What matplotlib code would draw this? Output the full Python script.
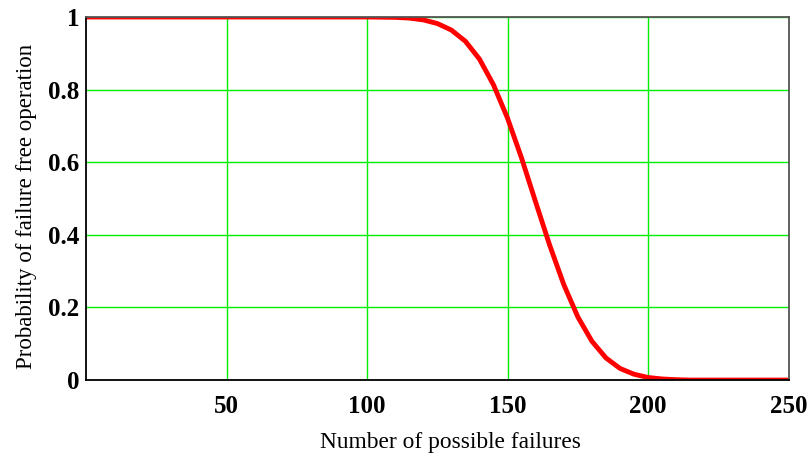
import matplotlib.pyplot as plt

# number of possible failures and probability of failure free operation
failures = [0, 50, 100, 110, 115, 120, 125, 130, 135, 140, 145, 150, 155, 160,
            165, 170, 175, 180, 185, 190, 195, 200, 205, 210, 215, 250]
prob = [1.0, 1.0, 1.0, 0.999, 0.997, 0.992, 0.982, 0.964, 0.933, 0.884, 0.813,
        0.721, 0.611, 0.490, 0.371, 0.263, 0.174, 0.107, 0.061, 0.032, 0.016,
        0.007, 0.003, 0.001, 0.0, 0.0]

x_ticks = [50, 100, 150, 200, 250]
y_ticks = [0, 0.2, 0.4, 0.6, 0.8, 1.0]
y_labels = ['0', '0.2', '0.4', '0.6', '0.8', '1']

plt.rcParams['font.family'] = ['Liberation Serif', 'DejaVu Serif']

fig = plt.figure(figsize=(8.07, 4.59), dpi=100)
ax = fig.add_axes([0.1066, 0.172, 0.8706, 0.791])

ax.plot(failures, prob, color='#ff0000', linewidth=3.5, solid_capstyle='butt', zorder=3)

ax.set_xlim(0, 250)
ax.set_ylim(0, 1)
ax.set_xticks(x_ticks)
ax.set_yticks(y_ticks)
ax.set_yticklabels(y_labels)
ax.tick_params(length=0, labelsize=18)
ax.tick_params(axis='x', pad=11)
ax.tick_params(axis='y', pad=5)
for lbl in ax.get_xticklabels() + ax.get_yticklabels():
    lbl.set_fontweight('bold')

ax.grid(True, color='#00ee00', linewidth=1)
ax.set_axisbelow(True)

ax.spines['left'].set_color('black')
ax.spines['bottom'].set_color('black')
ax.spines['top'].set_color('#555555')
ax.spines['right'].set_color('#555555')
for s in ax.spines.values():
    s.set_linewidth(1.3)
    s.set_zorder(4)

ax.set_xlabel('Number of possible failures', fontsize=16.8)
ax.set_ylabel('Probability of failure free operation', fontsize=16.5)
ax.xaxis.set_label_coords(0.518, -0.143)
ax.yaxis.set_label_coords(-0.07, 0.477)

fig.savefig('out.png', dpi=100)
